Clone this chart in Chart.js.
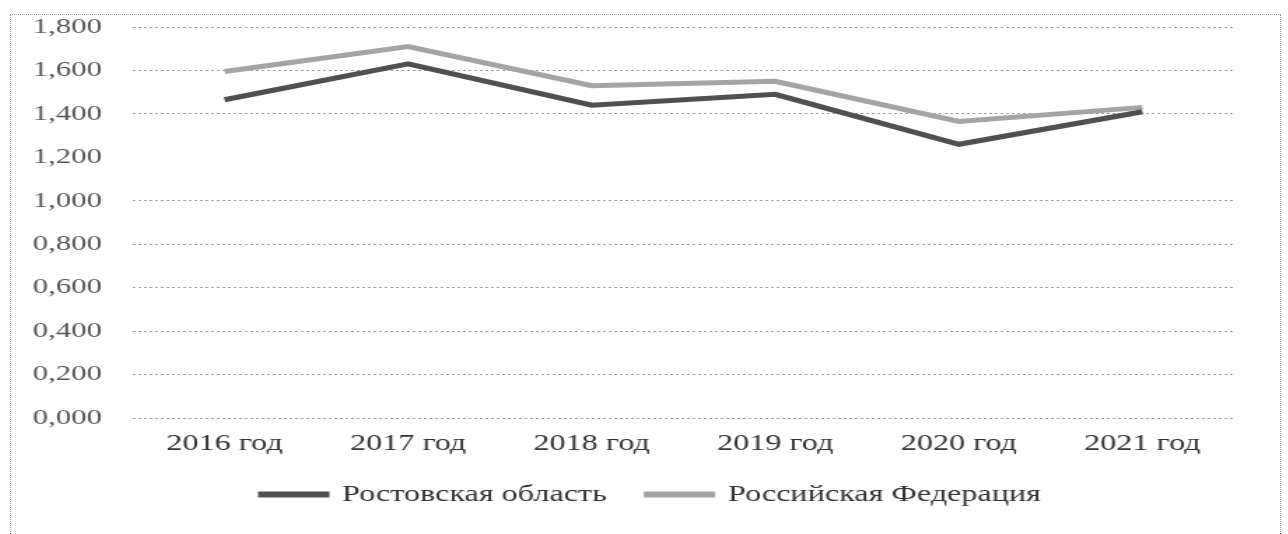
<!DOCTYPE html>
<html>
<head>
<meta charset="utf-8">
<script src="https://cdn.jsdelivr.net/npm/chart.js@4"></script>
<style>
  body { margin: 0; background: #fff; }
  #frame {
    position: absolute; left: 10px; top: 14px;
    width: 1271px; height: 530px;
    border: 1px dotted #999; box-sizing: border-box;
  }
</style>
</head>
<body>
<div id="frame">
  <!-- drawn narrow and stretched sideways, like the wide lettering of the original -->
  <canvas id="chart" width="906" height="519" style="width:1268px;height:519px"></canvas>
</div>
<script>
const years = ['2016 год', '2017 год', '2018 год', '2019 год', '2020 год', '2021 год'];
const rostov = [1.465, 1.63, 1.44, 1.49, 1.26, 1.41];
const russia = [1.595, 1.71, 1.53, 1.55, 1.365, 1.43];
const seriesNames = ['Ростовская область', 'Российская Федерация'];

const serif = '"Liberation Serif", "Times New Roman", serif';

const ctx = document.getElementById('chart').getContext('2d');

const chart = new Chart(ctx, {
    type: 'line',
    data: {
        labels: years,
        datasets: [{
            label: seriesNames[0],
            data: rostov,
            borderColor: '#505050',
            backgroundColor: '#505050',
            borderWidth: 5,
            pointRadius: 0,
            tension: 0
        }, {
            label: seriesNames[1],
            data: russia,
            borderColor: '#a4a4a4',
            backgroundColor: '#a4a4a4',
            borderWidth: 5,
            pointRadius: 0,
            tension: 0
        }]
    },
    options: {
        responsive: false,
        animation: false,
        layout: {
            padding: { top: 12, right: 0, bottom: 18, left: 9 }
        },
        scales: {
            x: {
                offset: true,
                grid: { display: false },
                border: { display: false },
                ticks: {
                    padding: 6,
                    color: '#333',
                    maxRotation: 0,
                    font: { family: serif, size: 23, lineHeight: 1 }
                },
                afterFit: function (scale) { scale.height = 36; }
            },
            y: {
                min: 0,
                max: 1.8,
                border: { display: false, dash: [2, 2] },
                grid: {
                    tickLength: 22,
                    tickColor: 'rgba(0,0,0,0)',
                    color: function (c) {
                        return (c.tick && Math.abs(c.tick.value - 1.2) < 1e-6) ? 'rgba(0,0,0,0)' : '#a0a0a0';
                    }
                },
                ticks: {
                    stepSize: 0.2,
                    padding: 0,
                    color: '#555',
                    font: { family: serif, size: 22, lineHeight: 1 },
                    callback: function (v) { return v.toFixed(3).replace('.', ','); }
                },
                afterFit: function (scale) { scale.width = 78; }
            },
            // empty right axis, only keeps the plot clear of the right edge
            y2: {
                position: 'right',
                grid: { display: false },
                border: { display: false },
                ticks: { display: false },
                afterFit: function (scale) { scale.width = 32; }
            }
        },
        plugins: {
            legend: {
                position: 'bottom',
                labels: {
                    boxWidth: 46,
                    boxHeight: 1,
                    padding: 29,
                    color: '#333',
                    font: { family: serif, size: 23 }
                }
            },
            tooltip: { enabled: false }
        }
    }
});
</script>
</body>
</html>
